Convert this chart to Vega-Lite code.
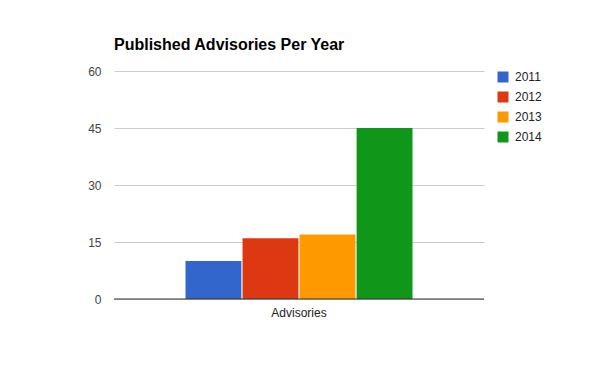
{
  "$schema": "https://vega.github.io/schema/vega-lite/v6.json",
  "autosize": "none",
  "width": 370,
  "height": 228,
  "padding": {"left": 114, "top": 71, "right": 114, "bottom": 72},
  "background": "white",
  "title": {
    "text": "Published Advisories Per Year",
    "anchor": "start",
    "frame": "group",
    "font": "Liberation Sans",
    "fontSize": 16,
    "fontWeight": "bold",
    "color": "#000000",
    "baseline": "alphabetic",
    "offset": -1
  },
  "data": {
    "values": [
      {"category": "Advisories", "year": "2011", "count": 10},
      {"category": "Advisories", "year": "2012", "count": 16},
      {"category": "Advisories", "year": "2013", "count": 17},
      {"category": "Advisories", "year": "2014", "count": 45}
    ]
  },
  "config": {
    "view": {"stroke": null},
    "font": "Liberation Sans"
  },
  "layer": [
    {
      "mark": {"type": "bar"},
      "encoding": {
        "x": {
          "field": "category",
          "type": "nominal",
          "scale": {"paddingInner": 0, "paddingOuter": 0.315},
          "axis": {
            "title": null,
            "labelAngle": 0,
            "ticks": false,
            "domain": false,
            "labelPadding": 8,
            "labelFontSize": 12,
            "labelColor": "#222222",
            "labelFont": "Liberation Sans"
          }
        },
        "xOffset": {
          "field": "year",
          "type": "nominal",
          "scale": {"paddingInner": 0.02, "paddingOuter": 0}
        },
        "y": {
          "field": "count",
          "type": "quantitative",
          "scale": {"domain": [0, 60], "nice": false},
          "axis": {
            "title": null,
            "values": [0, 15, 30, 45, 60],
            "ticks": false,
            "domain": false,
            "labelPadding": 13,
            "labelFontSize": 12,
            "labelColor": "#444444",
            "labelFont": "Liberation Sans",
            "gridColor": "#cccccc",
            "gridOpacity": 1
          }
        },
        "color": {
          "field": "year",
          "type": "nominal",
          "scale": {
            "domain": ["2011", "2012", "2013", "2014"],
            "range": ["#3366cc", "#dc3912", "#ff9900", "#109618"]
          },
          "legend": {
            "title": null,
            "orient": "none",
            "legendX": 383,
            "legendY": 0,
            "symbolType": "square",
            "symbolSize": 121,
            "symbolStrokeWidth": 0,
            "labelFontSize": 12,
            "labelColor": "#222222",
            "labelFont": "Liberation Sans",
            "rowPadding": 8,
            "labelOffset": 6
          }
        }
      }
    },
    {
      "data": {"values": [{"zero": 0}]},
      "mark": {"type": "rule", "color": "#333333", "strokeWidth": 1},
      "encoding": {
        "y": {"field": "zero", "type": "quantitative"}
      }
    }
  ]
}
